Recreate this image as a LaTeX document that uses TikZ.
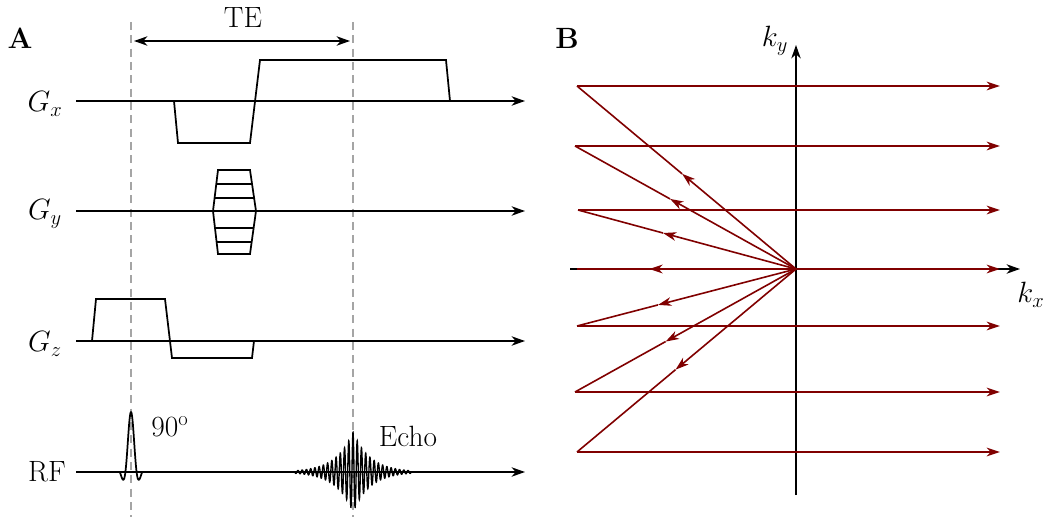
\RequirePackage{fix-cm}
\documentclass[tikz,border=0pt]{standalone}
\usepackage{fontspec}
\usetikzlibrary{arrows.meta,calc}
\definecolor{kred}{RGB}{128,0,0}
\definecolor{dgray}{RGB}{165,165,165}
\begin{document}
\begin{tikzpicture}[x=0.75pt,y=-0.75pt,
  font=\fontsize{22}{26}\selectfont,
  axis/.style={line width=1.3pt,-{Stealth[length=10pt,width=7pt,inset=3pt]}},
  wave/.style={line width=1.3pt,line join=miter},
  guide/.style={dgray,line width=1.1pt,dash pattern=on 6pt off 4pt},
  kline/.style={kred,line width=1.2pt},
  karrow/.style={kred,line width=1.2pt,-{Stealth[length=10pt,width=6.5pt,inset=3pt]}},
  lbl/.style={inner sep=0pt}]
\useasboundingbox (0,0) rectangle (1051,517);

% ---------------- Panel A ----------------
\node[lbl,font=\fontsize{22}{26}\selectfont\bfseries] (A) at (20,38) {A};
\coordinate (g1t) at (131,22); \coordinate (g1b) at (131,517);
\coordinate (g2t) at (353,22); \coordinate (g2b) at (353,517);
\draw[guide] (g1t) -- (g1b);
\draw[guide] (g2t) -- (g2b);
\coordinate (te1) at (134,41); \coordinate (te2) at (350,41);
\draw[line width=1.3pt,{Stealth[length=10pt,width=7pt,inset=3pt]}-{Stealth[length=10pt,width=7pt,inset=3pt]}] (te1) -- (te2);
\node[lbl] (TE) at (243,18) {TE};

% Gx
\coordinate (gx0) at (76,101); \coordinate (gx1) at (525,101);
\draw[axis] (gx0) -- (gx1);
\node[lbl] (Gx) at (45,104) {$G_x$};
\draw[wave] (174,101) -- (178,143) -- (250,143) -- (260,60) -- (446,60) -- (450,101);

% Gy
\coordinate (gy0) at (76,211); \coordinate (gy1) at (525,211);
\draw[axis] (gy0) -- (gy1);
\node[lbl] (Gy) at (45,214) {$G_y$};
\begin{scope}
  \clip (218,170) -- (250,170) -- (256,211) -- (250,254) -- (218,254) -- (213,211) -- cycle;
  \foreach \yy in {184,198,228,242} \draw[line width=1.3pt] (200,\yy) -- (270,\yy);
\end{scope}
\draw[wave] (218,170) -- (250,170) -- (256,211) -- (250,254) -- (218,254) -- (213,211) -- cycle;

% Gz
\coordinate (gz0) at (76,341); \coordinate (gz1) at (525,341);
\draw[axis] (gz0) -- (gz1);
\node[lbl] (Gz) at (45,344) {$G_z$};
\draw[wave] (92,341) -- (96,299) -- (165,299) -- (172,358) -- (252,358) -- (254,341);

% RF
\coordinate (rf0) at (76,472); \coordinate (rf1) at (525,472);
\draw[axis] (rf0) -- (rf1);
\node[lbl] (RF) at (47,472) {RF};
\draw[line width=1.3pt,line join=round] plot[domain=-2:2,samples=80,smooth]
  ({131+5.6*\x},{472-60*sin(180*\x)/(pi*\x)*(0.75+0.25*cos(90*\x))});
\draw[line width=1pt] plot[domain=-58:58,samples=1000]
  ({353+\x},{472-40*exp(-abs(\x)/17)*cos(85*\x)});
\node[lbl] (n90) at (170,427) {90$^{\mathrm{o}}$};
\node[lbl] (echo) at (408,436) {Echo};

% ---------------- Panel B ----------------
\node[lbl,font=\fontsize{22}{26}\selectfont\bfseries] (B) at (567,38) {B};
\coordinate (O) at (796,269);
\coordinate (kyb) at (796,495); \coordinate (kyt) at (796,45);
\coordinate (kxl) at (570,269); \coordinate (kxr) at (1020,269);
\draw[axis] (kyb) -- (kyt);
\draw[axis] (kxl) -- (kxr);
\node[lbl] (ky) at (775,41) {$k_y$};
\node[lbl] (kx) at (1031,295) {$k_x$};

\foreach \i/\yy/\xl/\f in {1/86/577/0.52, 2/146/575/0.57, 3/210/578/0.61, 4/269/577/0.67, 5/326/577/0.63, 6/392/575/0.59, 7/452/577/0.55} {
  \coordinate (L\i) at (\xl,\yy);
  \coordinate (R\i) at (1000,\yy);
  \coordinate (M\i) at ($(O)!\f!(L\i)$);
  \draw[karrow] (O) -- (M\i);
  \draw[kline] (M\i) -- (L\i);
  \draw[karrow] (L\i) -- (R\i);
}
\end{tikzpicture}
\end{document}
